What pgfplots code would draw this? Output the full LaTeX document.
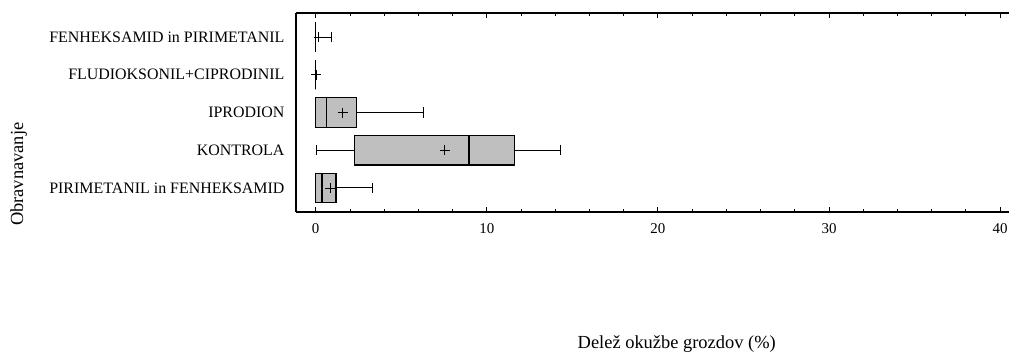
\documentclass[border=0pt]{standalone}
\usepackage{pgfplots}
\pgfplotsset{compat=1.18}
\usepgfplotslibrary{statistics}
\usepackage{fontspec}
\setmainfont{Liberation Serif}
\begin{document}
\begin{tikzpicture}
\path[use as bounding box] (0,0) rectangle (1009bp,357bp);
\begin{axis}[at={(296bp,145bp)}, anchor=south west, scale only axis,
  width=713bp, height=199bp,
  xmin=-1.15, xmax=40.52, ymin=0.364, ymax=5.636, y dir=reverse,
  axis x line=box, axis y line*=left,
  axis line style={line width=1.3bp},
  xtick={0,10,20,30,40}, minor x tick num=4,
  tick align=inside, major tick length=5bp, minor tick length=3bp,
  tick style={black, line width=0.8bp},
  ytick={1,2,3,4,5},
  yticklabels={FENHEKSAMID in PIRIMETANIL, FLUDIOKSONIL+CIPRODINIL, IPRODION, KONTROLA, PIRIMETANIL in FENHEKSAMID},
  ytick style={draw=none},
  yticklabel style={font=\fontsize{16}{16}\selectfont, xshift=-8bp},
  xticklabel style={font=\fontsize{15}{15}\selectfont, yshift=-8bp},
  /pgf/number format/assume math mode=true,
  xlabel={Delež okužbe grozdov (\%)},
  xlabel style={font=\fontsize{18.5}{18.5}\selectfont, at={(axis description cs:0.534,-0.665)}, anchor=center},
  ylabel={Obravnavanje},
  ylabel style={font=\fontsize{18.5}{18.5}\selectfont, at={(axis description cs:-0.389,0.19)}, anchor=center},
  boxplot/box extend=0.78,
  boxplot/whisker extend=0.27,
]
\pgfplotsset{bx/.style={draw=black, fill=black!25, solid, mark=none, line width=1.3bp,
  boxplot/every whisker/.style={line width=1bp}, boxplot/every median/.style={line width=1.5bp}}}
\addplot+[boxplot prepared={lower whisker=0, lower quartile=0, median=0, upper quartile=0, upper whisker=0.92, draw position=1}, bx] coordinates {};
\addplot+[boxplot prepared={lower whisker=0, lower quartile=0, median=0, upper quartile=0, upper whisker=0, draw position=2}, bx] coordinates {};
\addplot+[boxplot prepared={lower whisker=0, lower quartile=0, median=0.63, upper quartile=2.38, upper whisker=6.32, draw position=3}, bx] coordinates {};
\addplot+[boxplot prepared={lower whisker=0.02, lower quartile=2.28, median=8.95, upper quartile=11.64, upper whisker=14.3, draw position=4}, bx] coordinates {};
\addplot+[boxplot prepared={lower whisker=0, lower quartile=0, median=0.37, upper quartile=1.19, upper whisker=3.3, draw position=5}, bx] coordinates {};
\addplot[only marks, mark=+, mark size=5bp, line width=0.9bp] coordinates {(0.18,1) (0.04,2) (1.58,3) (7.54,4) (0.84,5)};
\end{axis}
\end{tikzpicture}
\end{document}
